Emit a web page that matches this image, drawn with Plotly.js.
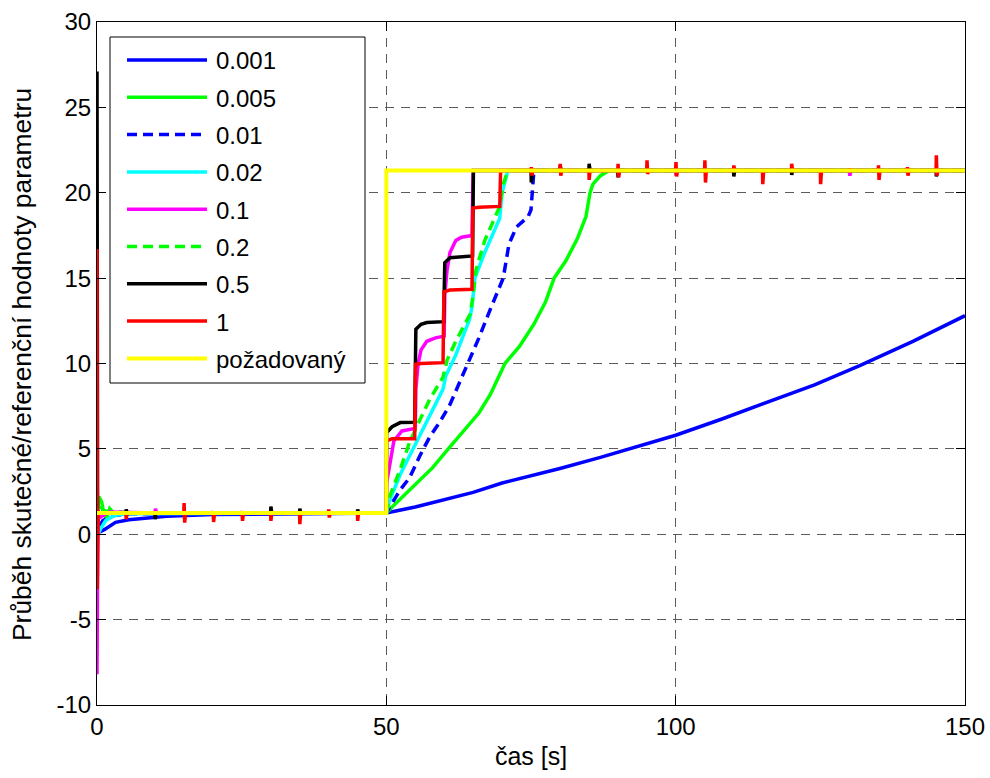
<!DOCTYPE html>
<html>
<head>
<meta charset="utf-8">
<script src="https://cdn.plot.ly/plotly-3.0.1.min.js"></script>
<style>html,body{margin:0;padding:0;background:#fff;}#chart{width:990px;height:778px;}</style>
</head>
<body>
<div id="chart"></div>
<script>
// ---- data ----
const seriesNames = ['0.001', '0.005', '0.01', '0.02', '0.1', '0.2', '0.5', '1', 'požadovaný'];
const seriesColors = ['#0000FF', '#00FF00', '#0000FF', '#00FFFF', '#FF00FF', '#00FF00', '#000000', '#FF0000', '#FFFF00'];
const seriesDash = ['solid', 'solid', '10px,6px', 'solid', 'solid', '10px,6px', 'solid', 'solid', 'solid'];

const t_0001 = [0, 0.3, 1.4, 2.3, 3.2, 5.5, 8.4, 12, 20, 30, 50, 55, 60, 65, 70, 75, 80, 87, 92, 100, 108, 116, 124, 132, 141, 150];
const v_0001 = [1.25, 0.1, 0.3, 0.5, 0.7, 0.85, 0.93, 1.05, 1.15, 1.2, 1.25, 1.6, 2.05, 2.45, 3.0, 3.4, 3.85, 4.5, 5.0, 5.8, 6.75, 7.75, 8.75, 9.9, 11.3, 12.8];

const t_0005 = [0, 0.3, 0.8, 1.2, 1.6, 2.2, 3, 4, 6, 50, 51, 52.4, 55.8, 58, 60.7, 63, 66, 68, 70.5, 73, 75.5, 77.5, 79, 81, 83, 84.5, 85.2, 85.7, 87, 88.5, 150];
const v_0005 = [1.25, 2.2, 1.9, 1.2, 0.9, 1.5, 1.2, 1.3, 1.25, 1.25, 1.6, 2.05, 3.2, 3.9, 5.0, 5.9, 7.1, 8.2, 10.0, 11.0, 12.3, 13.6, 15.0, 16.0, 17.3, 18.6, 20.0, 20.5, 21.0, 21.3, 21.3];

const t_001 = [0, 0.3, 1, 3, 6, 50, 50.6, 52.4, 54, 55.8, 57.5, 59.3, 61, 64.1, 66, 68, 70.2, 71.2, 72.5, 74.5, 75, 75.5, 150];
const v_001 = [1.25, 0.4, 0.8, 1.1, 1.2, 1.25, 1.6, 2.6, 3.3, 4.6, 5.7, 6.6, 7.6, 10.0, 11.5, 13.2, 15.0, 17.0, 18.0, 18.6, 19.0, 21.3, 21.3];

const t_002 = [0, 0.2, 0.6, 1.5, 3, 5, 50, 50.6, 52.4, 54.6, 55.5, 57.5, 59.8, 60.3, 62, 64.4, 64.8, 65.3, 67, 69.6, 70, 71, 150];
const v_002 = [1.25, 0.0, 0.3, 0.8, 1.1, 1.2, 1.25, 2.0, 3.5, 5.0, 5.6, 7.0, 8.5, 9.3, 10.5, 12.6, 13.3, 15.0, 16.5, 18.5, 20.0, 21.3, 21.3];

const t_01 = [0, 0.15, 0.6, 2, 10, 10.1, 10.3, 50, 50.05, 50.5, 51.3, 52.7, 55, 55.1, 55.5, 56, 57, 58.5, 60, 60.1, 60.5, 61, 62, 63, 64.8, 65, 100, 100.1, 100.3, 130, 130.1, 130.3, 150];
const v_01 = [-8.2, 1.4, 1.0, 1.3, 1.25, 1.5, 1.25, 1.25, 3.0, 4.0, 5.46, 6.05, 6.2, 8.5, 10.0, 10.8, 11.3, 11.5, 11.6, 14.0, 15.5, 16.5, 17.2, 17.4, 17.5, 21.3, 21.3, 21.0, 21.3, 21.3, 21.0, 21.3, 21.3];

const t_02 = [0, 0.3, 1, 3, 50, 50.6, 52.4, 54, 55.8, 57.5, 59.8, 60.5, 62, 64.5, 65, 65.5, 67, 68.5, 69.6, 70.2, 71, 150];
const v_02 = [1.25, 1.9, 1.4, 1.25, 1.25, 2.24, 3.8, 5.37, 6.7, 7.9, 9.2, 10.2, 11.3, 12.9, 14.0, 15.5, 17.2, 18.3, 19.2, 20.5, 21.3, 21.3];

const t_05 = [0, 0.1, 5, 5.05, 5.2, 10, 10.05, 10.2, 30, 30.05, 30.2, 35, 35.05, 35.2, 45, 45.05, 45.2, 50, 50.05, 51, 52.4, 54.9, 55.1, 56, 57, 59.9, 60.1, 61, 64.9, 65.05, 75, 75.05, 75.2, 80, 80.05, 80.2, 85, 85.05, 85.2, 90, 90.05, 90.2, 110, 110.05, 110.2, 120, 120.05, 120.2, 145, 145.05, 145.2, 150];
const v_05 = [27.1, 1.25, 1.25, 1.46, 1.25, 1.25, 0.88, 1.25, 1.25, 1.62, 1.25, 1.25, 1.5, 1.25, 1.25, 1.46, 1.25, 1.25, 5.96, 6.3, 6.54, 6.56, 12.0, 12.3, 12.4, 12.45, 15.9, 16.2, 16.3, 21.3, 21.3, 20.6, 21.3, 21.3, 21.6, 21.3, 21.3, 21.7, 21.3, 21.3, 20.9, 21.3, 21.3, 20.95, 21.3, 21.3, 21.05, 21.3, 21.3, 20.95, 21.3, 21.3];

const t_1 = [0, 0.05, 0.2, 5, 5.05, 5.2, 15, 15.05, 15.15, 15.3, 20, 20.05, 20.15, 20.3, 25, 25.05, 25.15, 25.3, 30, 30.05, 30.2, 35, 35.05, 35.2, 40, 40.05, 40.15, 40.3, 45, 45.05, 45.2, 50, 50.05, 51, 54.9, 55.05, 56, 59.8, 59.95, 61, 64.8, 64.95, 66, 69.6, 69.75,
  75, 75.05, 75.15, 75.3, 80, 80.05, 80.15, 80.3, 85, 85.05, 85.2, 90, 90.05, 90.15, 90.3, 95, 95.05, 95.15, 95.3, 100, 100.05, 100.15, 100.3, 105, 105.05, 105.15, 105.3, 110, 110.05, 110.2, 115, 115.05, 115.2, 120, 120.05, 120.2, 125, 125.05, 125.2, 130, 130.05, 130.2, 135, 135.05, 135.15, 135.3, 140, 140.05, 140.15, 140.3, 145, 145.05, 145.15, 145.3, 150];
const v_1 = [16.7, -3.2, 1.25, 1.25, 0.88, 1.25, 1.25, 1.82, 0.68, 1.25, 1.25, 1.36, 0.72, 1.25, 1.25, 1.36, 0.78, 1.25, 1.25, 0.78, 1.25, 1.25, 0.59, 1.25, 1.25, 1.46, 0.98, 1.25, 1.25, 0.78, 1.25, 1.25, 5.47, 5.6, 5.6, 9.96, 10.0, 10.05, 14.2, 14.3, 14.35, 19.1, 19.15, 19.2, 21.3,
  21.3, 21.5, 21.0, 21.3, 21.3, 21.7, 21.0, 21.3, 21.3, 20.75, 21.3, 21.3, 21.7, 20.9, 21.3, 21.3, 21.9, 21.1, 21.3, 21.3, 21.8, 20.95, 21.3, 21.3, 21.9, 20.6, 21.3, 21.3, 21.6, 21.3, 21.3, 20.5, 21.3, 21.3, 21.7, 21.3, 21.3, 20.5, 21.3, 21.3, 21.4, 21.3, 21.3, 21.6, 20.75, 21.3, 21.3, 21.5, 21.0, 21.3, 21.3, 22.2, 21.0, 21.3, 21.3];

const t_ref = [0, 50, 50, 150];
const v_ref = [1.25, 1.25, 21.3, 21.3];

const xTickVals = [0, 50, 100, 150];
const xTickText = ['0', '50', '100', '150'];
const yTickVals = [-10, -5, 0, 5, 10, 15, 20, 25, 30];
const yTickText = ['-10', '-5', '0', '5', '10', '15', '20', '25', '30'];

const xTitle = 'čas [s]';
const yTitle = 'Průběh skutečné/referenční hodnoty parametru';

// ---- build traces ----
const allT = [t_0001, t_0005, t_001, t_002, t_01, t_02, t_05, t_1, t_ref];
const allV = [v_0001, v_0005, v_001, v_002, v_01, v_02, v_05, v_1, v_ref];
const lineWidths = [3.5, 3.5, 3.5, 3.5, 3.5, 3.5, 3.5, 3.5, 4];

const FONT = 'Liberation Sans, Arial, Helvetica, sans-serif';

const traces = seriesNames.map((name, i) => ({
  type: 'scatter',
  mode: 'lines',
  name: name,
  x: allT[i],
  y: allV[i],
  line: {color: seriesColors[i], width: lineWidths[i], dash: seriesDash[i]},
  showlegend: false,
  hoverinfo: 'skip'
}));

// ---- manual MATLAB-style legend (paper coordinates) ----
const L = 97, R = 965, T = 22, B = 705;
const px = p => (p - L) / (R - L);
const py = p => (B - p) / (B - T);

const shapes = [{
  type: 'rect', xref: 'paper', yref: 'paper', layer: 'above',
  x0: px(110), x1: px(365), y0: py(383), y1: py(37),
  fillcolor: '#ffffff', line: {color: '#000000', width: 1}
}];
const annotations = [];
seriesNames.forEach((name, i) => {
  const yc = 60 + i * 37.3;
  shapes.push({
    type: 'line', xref: 'paper', yref: 'paper', layer: 'above',
    x0: px(127), x1: px(207), y0: py(yc), y1: py(yc),
    line: {color: seriesColors[i], width: lineWidths[i], dash: seriesDash[i]}
  });
  annotations.push({
    xref: 'paper', yref: 'paper', x: px(214), y: py(yc + 1),
    xanchor: 'left', yanchor: 'middle', showarrow: false,
    text: name, font: {family: FONT, size: 24, color: '#000'}
  });
});

annotations.push({
  xref: 'paper', yref: 'paper', x: px(22), y: py(365),
  xanchor: 'center', yanchor: 'middle', showarrow: false, textangle: -90,
  text: yTitle, font: {family: FONT, size: 26.4, color: '#000'}
});

const axisCommon = {
  showline: true, linecolor: '#000', linewidth: 1, mirror: 'ticks',
  ticks: 'inside', ticklen: 9, tickcolor: '#000', tickwidth: 1,
  showgrid: true, gridcolor: '#5a5a5a', gridwidth: 1, griddash: '9px,7px',
  zeroline: false, tickfont: {family: FONT, size: 24, color: '#000'},
  tickmode: 'array', fixedrange: true
};

const layout = {
  width: 990, height: 778,
  margin: {l: L, r: 990 - R, t: T, b: 778 - B, pad: 0},
  paper_bgcolor: '#fff', plot_bgcolor: '#fff',
  font: {family: FONT, size: 24, color: '#000'},
  showlegend: false,
  xaxis: Object.assign({}, axisCommon, {
    range: [0, 150], tickvals: xTickVals, ticktext: xTickText,
    title: {text: xTitle, font: {family: FONT, size: 25, color: '#000'}, standoff: 8}
  }),
  yaxis: Object.assign({}, axisCommon, {
    range: [-10, 30], tickvals: yTickVals, ticktext: yTickText
  }),
  shapes: shapes,
  annotations: annotations
};

Plotly.newPlot('chart', traces, layout, {staticPlot: true, displayModeBar: false});
</script>
</body>
</html>
